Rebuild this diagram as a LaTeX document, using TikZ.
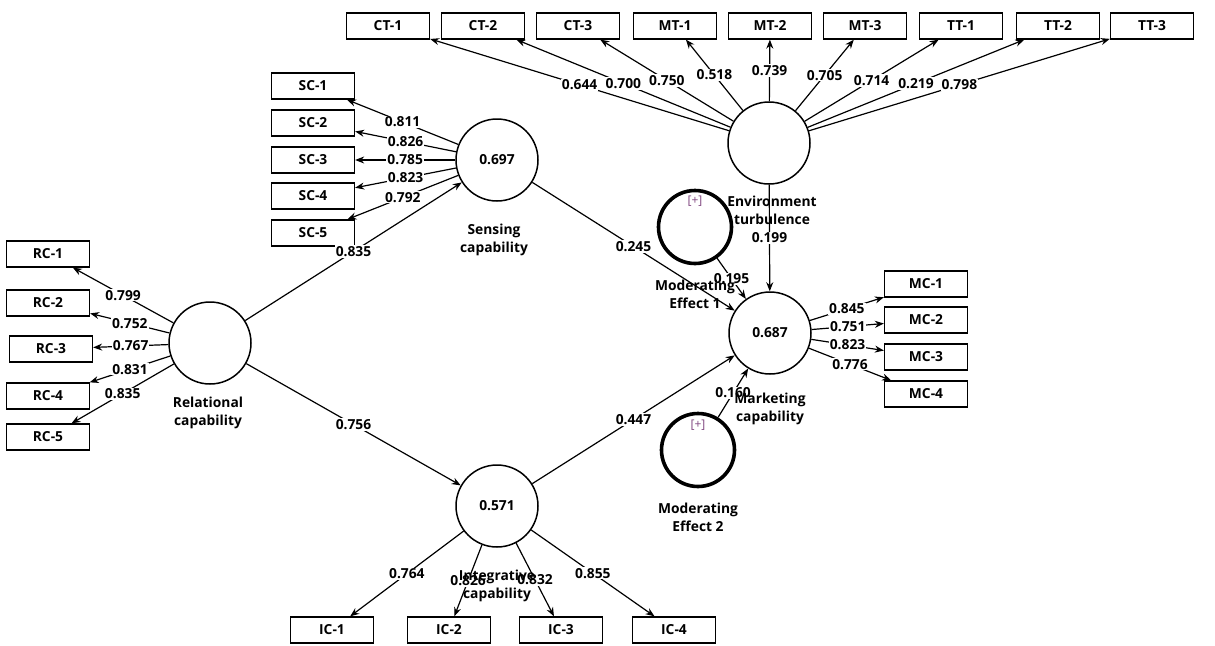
\documentclass[tikz,border=0pt]{standalone}
\usepackage{fontspec}
\setmainfont{Open Sans}
\usetikzlibrary{arrows.meta, positioning}

\begin{document}
\begin{tikzpicture}[
    x=1pt, y=-1pt,
    latent/.style = {circle, draw=black, line width=1.5pt, minimum size=82pt, inner sep=0pt, font=\bfseries\fontsize{13.8}{15}\selectfont},
    moder/.style = {circle, draw=black, line width=3.6pt, minimum size=73pt, inner sep=0pt},
    indic/.style = {rectangle, draw=black, line width=1.3pt, minimum width=83pt, minimum height=26pt, inner sep=0pt, font=\bfseries\fontsize{13.8}{15}\selectfont},
    varname/.style = {align=center, inner sep=0pt, font=\bfseries\fontsize{13.8}{18}\selectfont},
    coef/.style = {fill=white, inner sep=1pt, font=\bfseries\fontsize{13.8}{15}\selectfont},
    plusmark/.style = {text=violet!45!gray, font=\fontsize{12}{14}\selectfont},
    arrow/.style = {draw=black, line width=1.2pt, -{Stealth[length=9pt,width=7pt]}}
]
\useasboundingbox (0,0) rectangle (1215,645);

% latent variables
\node (et) [latent] at (769,143) {};
\node (sc) [latent] at (497,160) {0.697};
\node (rc) [latent] at (210,343) {};
\node (ic) [latent] at (497,506) {0.571};
\node (mc) [latent] at (770,333) {0.687};
\node (me1) [moder] at (695,227) {};
\node (me2) [moder] at (698,450) {};
\node (me1-plus) [plusmark] at (695,201) {[+]};
\node (me2-plus) [plusmark] at (698,425) {[+]};

% indicators
\node (ct1) [indic] at (388,26) {CT-1};
\node (ct2) [indic] at (483,26) {CT-2};
\node (ct3) [indic] at (578,26) {CT-3};
\node (mt1) [indic] at (675,26) {MT-1};
\node (mt2) [indic] at (770,26) {MT-2};
\node (mt3) [indic] at (865,26) {MT-3};
\node (tt1) [indic] at (961,26) {TT-1};
\node (tt2) [indic] at (1058,26) {TT-2};
\node (tt3) [indic] at (1152,26) {TT-3};

\node (sc1) [indic] at (313,86) {SC-1};
\node (sc2) [indic] at (313,123) {SC-2};
\node (sc3) [indic] at (313,160) {SC-3};
\node (sc4) [indic] at (313,196) {SC-4};
\node (sc5) [indic] at (313,233) {SC-5};

\node (rc1) [indic] at (48,254) {RC-1};
\node (rc2) [indic] at (48,303) {RC-2};
\node (rc3) [indic] at (51,349) {RC-3};
\node (rc4) [indic] at (48,396) {RC-4};
\node (rc5) [indic] at (48,437) {RC-5};

\node (ic1) [indic] at (332,630) {IC-1};
\node (ic2) [indic] at (449,630) {IC-2};
\node (ic3) [indic] at (561,630) {IC-3};
\node (ic4) [indic] at (674,630) {IC-4};

\node (mc1) [indic] at (926,284) {MC-1};
\node (mc2) [indic] at (926,320) {MC-2};
\node (mc3) [indic] at (926,357) {MC-3};
\node (mc4) [indic] at (926,394) {MC-4};

% outer loadings
\draw [arrow] (et) -- node[coef] {0.644} (ct1);
\draw [arrow] (et) -- node[coef] {0.700} (ct2);
\draw [arrow] (et) -- node[coef] {0.750} (ct3);
\draw [arrow] (et) -- node[coef] {0.518} (mt1);
\draw [arrow] (et) -- node[coef] {0.739} (mt2);
\draw [arrow] (et) -- node[coef] {0.705} (mt3);
\draw [arrow] (et) -- node[coef] {0.714} (tt1);
\draw [arrow] (et) -- node[coef] {0.219} (tt2);
\draw [arrow] (et) -- node[coef] {0.798} (tt3);

\draw [arrow] (sc) -- node[coef] {0.811} (sc1);
\draw [arrow] (sc) -- node[coef] {0.826} (sc2);
\draw [arrow] (sc) -- node[coef] {0.785} (sc3);
\draw [arrow] (sc) -- node[coef] {0.823} (sc4);
\draw [arrow] (sc) -- node[coef] {0.792} (sc5);

\draw [arrow] (rc) -- node[coef] {0.799} (rc1);
\draw [arrow] (rc) -- node[coef] {0.752} (rc2);
\draw [arrow] (rc) -- node[coef] {0.767} (rc3);
\draw [arrow] (rc) -- node[coef] {0.831} (rc4);
\draw [arrow] (rc) -- node[coef] {0.835} (rc5);

\draw [arrow] (ic) -- node[coef] {0.764} (ic1);
\draw [arrow] (ic) -- node[coef] {0.826} (ic2);
\draw [arrow] (ic) -- node[coef] {0.832} (ic3);
\draw [arrow] (ic) -- node[coef] {0.855} (ic4);

\draw [arrow] (mc) -- node[coef] {0.845} (mc1);
\draw [arrow] (mc) -- node[coef] {0.751} (mc2);
\draw [arrow] (mc) -- node[coef] {0.823} (mc3);
\draw [arrow] (mc) -- node[coef] {0.776} (mc4);

% structural paths
\draw [arrow] (rc) -- node[coef] {0.835} (sc);
\draw [arrow] (rc) -- node[coef] {0.756} (ic);
\draw [arrow] (sc) -- node[coef] {0.245} (mc);
\draw [arrow] (ic) -- node[coef] {0.447} (mc);
\draw [arrow] (et) -- node[coef] {0.199} (mc);
\draw [arrow] (me1) -- node[coef] {0.195} (mc);
\draw [arrow] (me2) -- node[coef] {0.160} (mc);

% variable names
\node (et-name) [varname] at (772,210) {Environment\\turbulence};
\node (sc-name) [varname] at (494,240) {Sensing\\capability};
\node (rc-name) [varname] at (208,413) {Relational\\capability};
\node (ic-name) [varname] at (497,586) {Integrative\\capability};
\node (mc-name) [varname] at (770,409) {Marketing\\capability};
\node (me1-name) [varname] at (695,294) {Moderating\\Effect 1};
\node (me2-name) [varname] at (698,517) {Moderating\\Effect 2};
\end{tikzpicture}
\end{document}
